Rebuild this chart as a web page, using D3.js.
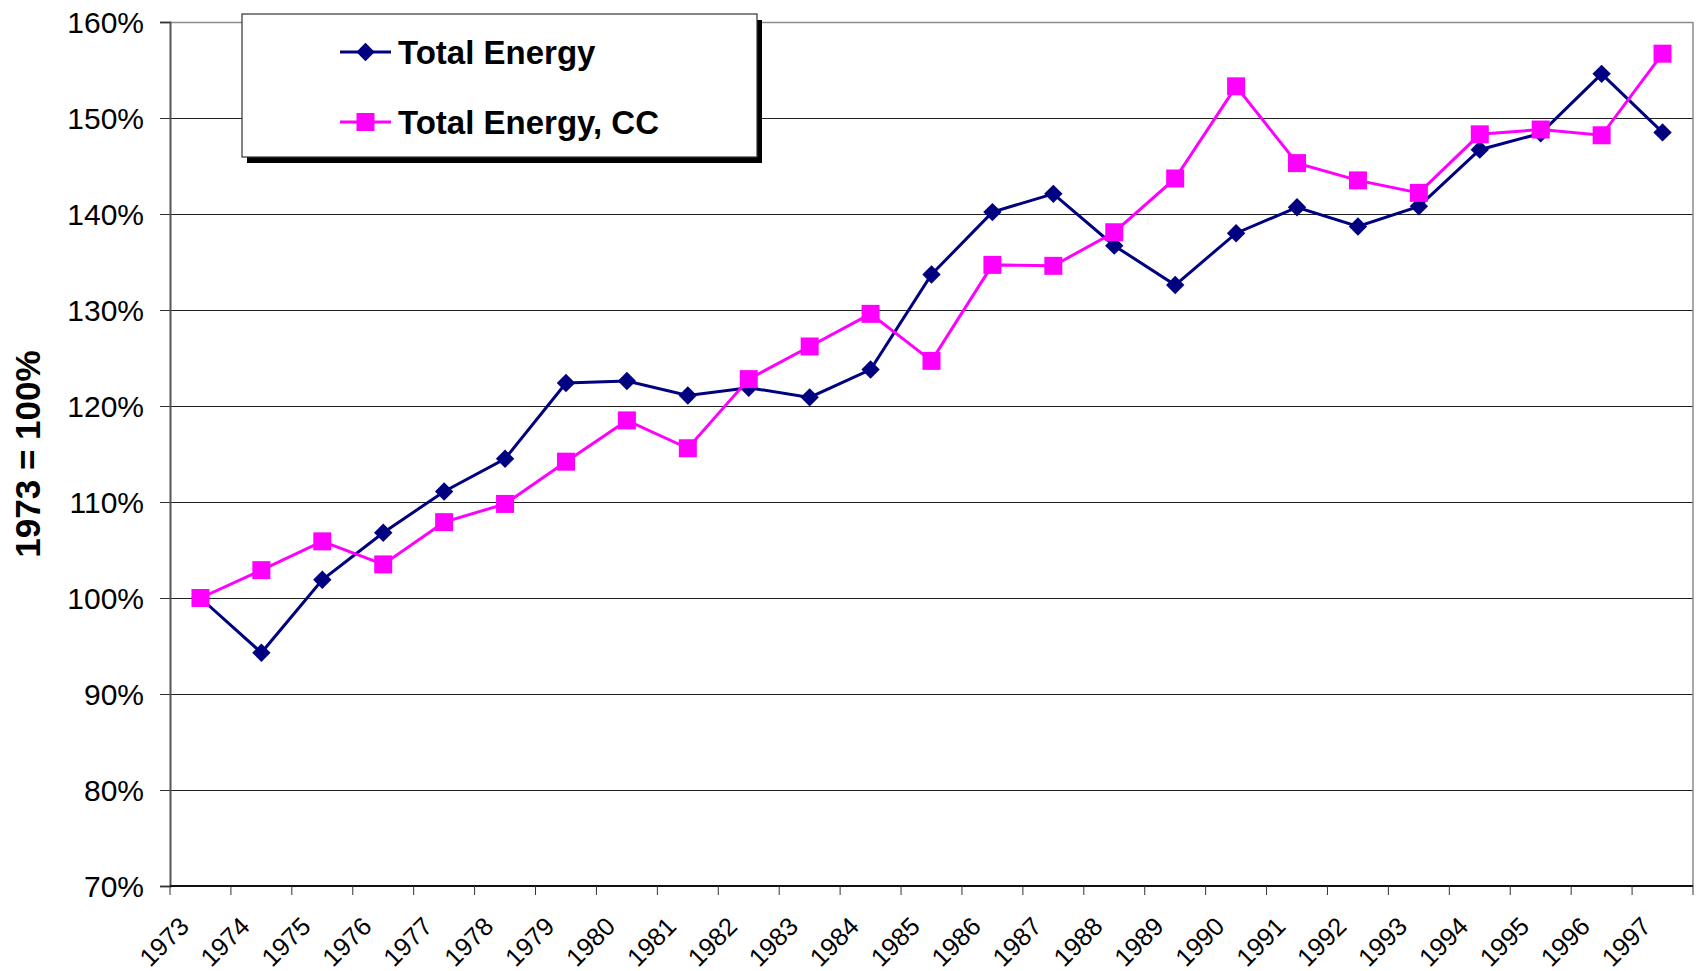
<!DOCTYPE html>
<html>
<head>
<meta charset="utf-8">
<script src="https://cdn.jsdelivr.net/npm/d3@7"></script>
<style>
  html, body { margin: 0; padding: 0; background: #fff; }
  svg { display: block; font-family: "Liberation Sans", Arial, sans-serif; }
</style>
</head>
<body>
<div class="chart-container"></div>
<script>
// chart data
const years = ["1973","1974","1975","1976","1977","1978","1979","1980","1981","1982","1983","1984","1985",
               "1986","1987","1988","1989","1990","1991","1992","1993","1994","1995","1996","1997"]
const totalEnergy = [1.000, 0.943, 1.019, 1.068, 1.111, 1.145, 1.224, 1.226, 1.211, 1.219, 1.209, 1.238, 1.337,
                     1.402, 1.421, 1.367, 1.326, 1.380, 1.407, 1.387, 1.408, 1.467, 1.484, 1.546, 1.485]
const totalEnergyCC = [1.000, 1.029, 1.059, 1.035, 1.079, 1.098, 1.142, 1.185, 1.156, 1.228, 1.262, 1.296, 1.247,
                       1.347, 1.346, 1.381, 1.437, 1.533, 1.453, 1.435, 1.422, 1.483, 1.488, 1.482, 1.567]
const yTicks = [0.7, 0.8, 0.9, 1.0, 1.1, 1.2, 1.3, 1.4, 1.5, 1.6]
const seriesNames = ["Total Energy", "Total Energy, CC"]
const seriesColors = ["#000080", "#ff00ff"]

const width = 1698
const height = 971
const margin = {left: 170, top: 22, right: 5, bottom: 85}
const chartWidth = width - margin.left - margin.right
const chartHeight = height - margin.top - margin.bottom

const svg = d3.select('.chart-container')
  .append('svg')
    .attr('width', width)
    .attr('height', height)
  .append('g')
    .attr('transform', `translate(${margin.left}, ${margin.top})`)

const xScale = d3.scaleBand()
    .domain(years)
    .range([0, chartWidth])
    .padding(0)
const xMid = d => xScale(d) + xScale.bandwidth() / 2

const yScale = d3.scaleLinear()
    .domain([0.7, 1.6])
    .range([chartHeight, 0])

// gridlines
const grid = svg.append('g')
  .call(d3.axisLeft(yScale).tickValues(yTicks).tickSize(-chartWidth).tickFormat(''))
grid.select('.domain').remove()
grid.selectAll('.tick line')
  .attr('stroke', d => d === 1.6 ? '#8a8a8a' : '#222')
  .attr('stroke-width', d => d === 1.6 ? 1.5 : 1)

// right border
svg.append('line')
  .attr('x1', chartWidth).attr('x2', chartWidth)
  .attr('y1', 0).attr('y2', chartHeight)
  .attr('stroke', '#8a8a8a').attr('stroke-width', 1.5)

// y axis
const yAxis = svg.append('g')
  .call(d3.axisLeft(yScale).tickValues(yTicks).tickSize(10).tickPadding(16).tickFormat(d3.format('.0%')))
yAxis.select('.domain').attr('stroke', '#555').attr('stroke-width', 2)
yAxis.selectAll('.tick line').attr('stroke', '#333')
yAxis.selectAll('.tick text')
  .attr('font-size', 30)
  .attr('fill', '#000')
  .attr('dy', '0.36em')

svg.append('text')
  .attr('transform', `translate(${-margin.left + 40}, ${yScale(1.15)}) rotate(-90)`)
  .attr('text-anchor', 'middle')
  .attr('font-size', 35)
  .attr('font-weight', 'bold')
  .text('1973 = 100%')

// x axis, ticks sit between categories
const xAxis = svg.append('g')
  .attr('transform', `translate(0, ${chartHeight})`)
xAxis.append('line')
  .attr('x1', 0).attr('x2', chartWidth)
  .attr('stroke', '#111').attr('stroke-width', 2)
xAxis.selectAll('.xtick')
  .data(years.concat(['end']))
  .enter().append('line')
    .attr('class', 'xtick')
    .attr('x1', d => d === 'end' ? chartWidth : xScale(d))
    .attr('x2', d => d === 'end' ? chartWidth : xScale(d))
    .attr('y1', 0).attr('y2', 9)
    .attr('stroke', '#333')
xAxis.selectAll('.xlabel')
  .data(years)
  .enter().append('text')
    .attr('class', 'xlabel')
    .attr('transform', d => `translate(${xMid(d) - 10}, 42) rotate(-45)`)
    .attr('text-anchor', 'end')
    .attr('font-size', 25.5)
    .text(d => d)

// lines
const line = d3.line()
  .x((d, i) => xMid(years[i]))
  .y(d => yScale(d))

const allSeries = [totalEnergy, totalEnergyCC]
allSeries.forEach((values, s) => {
  svg.append('path')
    .datum(values)
    .attr('fill', 'none')
    .attr('stroke', seriesColors[s])
    .attr('stroke-width', 3)
    .attr('d', line)

  svg.selectAll(`.marker-${s}`)
    .data(values)
    .enter().append('path')
      .attr('class', `marker-${s}`)
      .attr('transform', (d, i) => `translate(${xMid(years[i])}, ${yScale(d)})${s === 0 ? ' rotate(45)' : ''}`)
      .attr('d', s === 0 ? 'M-6.5,-6.5H6.5V6.5H-6.5Z' : 'M-9,-9H9V9H-9Z')
      .attr('fill', seriesColors[s])
})

// legend
const legend = svg.append('g')
  .attr('transform', `translate(${242 - margin.left}, ${14 - margin.top})`)
legend.append('rect')
  .attr('x', 5).attr('y', 6)
  .attr('width', 515).attr('height', 143)
  .attr('fill', '#000')
legend.append('rect')
  .attr('width', 515).attr('height', 143)
  .attr('fill', '#fff')
  .attr('stroke', '#333')
  .attr('stroke-width', 1.2)

const legendRows = legend.selectAll('.legend-row')
  .data(seriesNames)
  .enter().append('g')
    .attr('class', 'legend-row')
    .attr('transform', (d, i) => `translate(98, ${38 + i * 70})`)
legendRows.append('line')
  .attr('x1', 0).attr('x2', 51)
  .attr('stroke', (d, i) => seriesColors[i])
  .attr('stroke-width', 3)
legendRows.append('path')
  .attr('transform', (d, i) => `translate(25.5, 0)${i === 0 ? ' rotate(45)' : ''}`)
  .attr('d', (d, i) => i === 0 ? 'M-6.5,-6.5H6.5V6.5H-6.5Z' : 'M-9,-9H9V9H-9Z')
  .attr('fill', (d, i) => seriesColors[i])
legendRows.append('text')
  .attr('x', 58)
  .attr('dy', '0.35em')
  .attr('font-size', 33)
  .attr('font-weight', 'bold')
  .text(d => d)
</script>
</body>
</html>
